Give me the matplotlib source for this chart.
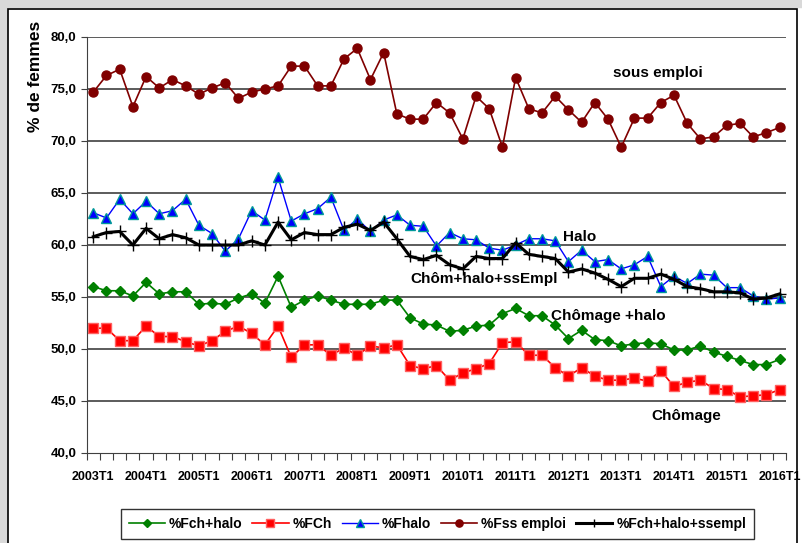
import matplotlib
matplotlib.use("Agg")
import matplotlib.pyplot as plt
from matplotlib.patches import Rectangle

plt.rcParams['font.family'] = ['Liberation Sans', 'DejaVu Sans']

# quarters 2003T1 .. 2016T1
years = list(range(2003, 2017))
quarters = [f"{y}T{q}" for y in years for q in (1, 2, 3, 4)][:53]
tick_labels = [f"{y}T1" for y in years]

# % de femmes
fch_halo = [56.0, 55.6, 55.6, 55.1, 56.4, 55.3, 55.5, 55.5, 54.3, 54.4, 54.3, 54.9,
            55.3, 54.4, 57.0, 54.0, 54.7, 55.1, 54.7, 54.3, 54.3, 54.3, 54.7, 54.7,
            53.0, 52.4, 52.3, 51.7, 51.8, 52.2, 52.3, 53.4, 53.9, 53.2, 53.2, 52.3,
            51.0, 51.8, 50.9, 50.8, 50.3, 50.5, 50.6, 50.5, 49.9, 49.9, 50.3, 49.7,
            49.3, 48.9, 48.5, 48.5, 49.0]
fch = [52.0, 52.0, 50.8, 50.8, 52.2, 51.2, 51.2, 50.7, 50.3, 50.8, 51.7, 52.2,
       51.5, 50.4, 52.2, 49.2, 50.4, 50.4, 49.4, 50.1, 49.4, 50.3, 50.1, 50.4,
       48.4, 48.1, 48.4, 47.0, 47.7, 48.1, 48.6, 50.6, 50.7, 49.4, 49.4, 48.2,
       47.4, 48.2, 47.4, 47.0, 47.0, 47.2, 46.9, 47.9, 46.4, 46.8, 47.0, 46.2,
       46.1, 45.4, 45.5, 45.6, 46.1]
fhalo = [63.1, 62.6, 64.4, 63.0, 64.2, 63.0, 63.3, 64.4, 61.9, 61.1, 59.4, 60.6,
         63.3, 62.4, 66.5, 62.3, 63.0, 63.5, 64.6, 61.4, 62.5, 61.3, 62.4, 62.9,
         61.9, 61.8, 59.9, 61.2, 60.6, 60.5, 59.7, 59.5, 60.0, 60.6, 60.6, 60.4,
         58.4, 59.5, 58.4, 58.6, 57.7, 58.1, 58.9, 56.0, 57.0, 56.3, 57.2, 57.1,
         55.9, 55.9, 55.1, 54.8, 54.9]
fss_emploi = [74.7, 76.3, 76.9, 73.3, 76.2, 75.1, 75.9, 75.3, 74.5, 75.1, 75.6, 74.1,
              74.7, 75.0, 75.3, 77.2, 77.2, 75.3, 75.3, 77.9, 78.9, 75.9, 78.5, 72.6,
              72.1, 72.1, 73.7, 72.7, 70.2, 74.3, 73.1, 69.4, 76.1, 73.1, 72.7, 74.3,
              73.0, 71.8, 73.7, 72.1, 69.4, 72.2, 72.2, 73.7, 74.4, 71.7, 70.2, 70.4,
              71.5, 71.7, 70.4, 70.8, 71.3]
fch_halo_ssempl = [60.8, 61.2, 61.3, 60.0, 61.6, 60.6, 61.0, 60.7, 60.0, 60.0, 60.0, 60.0,
                   60.4, 60.0, 62.2, 60.5, 61.2, 61.0, 61.0, 61.7, 62.0, 61.4, 62.2, 60.6,
                   58.9, 58.6, 59.0, 58.1, 57.7, 58.9, 58.7, 58.7, 60.2, 59.1, 58.9, 58.7,
                   57.4, 57.7, 57.3, 56.7, 56.0, 56.8, 56.8, 57.2, 56.7, 56.0, 55.8, 55.5,
                   55.5, 55.4, 54.8, 54.9, 55.3]

x = list(range(len(quarters)))

fig = plt.figure(figsize=(8.03, 5.43), dpi=100)
W, H = 803, 543

# frame like the spreadsheet chart area
fig.patches.append(Rectangle((0, 0), 7 / W, 1, transform=fig.transFigure,
                             color="#d9d9d9", zorder=0))
fig.patches.append(Rectangle((0, 1 - 7 / H), 1, 7 / H, transform=fig.transFigure,
                             color="#d9d9d9", zorder=0))
fig.patches.append(Rectangle((8 / W, -0.01), 789 / W, 1 - 9 / H + 0.01,
                             transform=fig.transFigure, fill=False,
                             edgecolor="black", lw=1.2, zorder=1))

ax = fig.add_axes([86.7 / W, 1 - 453 / H, 699.5 / W, 416 / H])

ax.plot(x, fch_halo, color="#008000", lw=1.2, marker="D", ms=5.5,
        mfc="#008000", mec="#008000", label="%Fch+halo")
ax.plot(x, fch, color="#ff0000", lw=1.2, marker="s", ms=6.5,
        mfc="#ff0000", mec="#ff6060", label="%FCh")
ax.plot(x, fhalo, color="#0000ff", lw=1.0, marker="^", ms=6.5,
        mfc="#0000ff", mec="#009999", label="%Fhalo")
ax.plot(x, fss_emploi, color="#800000", lw=1.2, marker="o", ms=6.5,
        mfc="#800000", mec="#800000", label="%Fss emploi")
ax.plot(x, fch_halo_ssempl, color="black", lw=2.2, marker="+", ms=8, mew=1.0,
        label="%Fch+halo+ssempl")

ax.set_xlim(-0.5, len(x) - 0.5)
ax.set_ylim(40, 80)
ax.set_yticks(range(40, 81, 5))
ax.set_yticklabels([f"{v},0" for v in range(40, 81, 5)],
                   fontsize=9.5, fontweight="bold")
for v in range(45, 81, 5):
    ax.axhline(v, color="#404040", lw=1.2, zorder=0)

# tick marks between categories, labels on every 4th category
ax.set_xticks([i - 0.5 for i in range(len(x) + 1)])
ax.set_xticklabels([])
ax.set_xticks(list(range(0, len(x), 4)), minor=True)
ax.set_xticklabels(tick_labels, minor=True, fontsize=9, fontweight="bold")
ax.tick_params(axis="x", which="major", direction="out", length=5, color="#404040")
ax.tick_params(axis="x", which="minor", length=0, pad=13)
ax.tick_params(axis="y", direction="out", length=4, color="#404040")

for s in ("top", "right"):
    ax.spines[s].set_visible(False)
ax.spines["left"].set_color("#404040")
ax.spines["bottom"].set_color("#404040")

ax.set_ylabel("% de femmes", fontsize=12.5, fontweight="bold")
ax.yaxis.set_label_coords(-0.0625, 0.905)

# series labels inside the plot
lbl = dict(fontsize=11, fontweight="bold", va="center")
ax.text(42.8, 76.5, "sous emploi", ha="center", **lbl)
ax.text(35.6, 60.8, "Halo", ha="left", **lbl)
ax.text(24.0, 56.7, "Chôm+halo+ssEmpl", ha="left", **lbl)
ax.text(34.7, 53.2, "Chômage +halo", ha="left", **lbl)
ax.text(42.3, 43.6, "Chômage", ha="left", **lbl)

leg = fig.legend(loc="center", bbox_to_anchor=(437.5 / W, 1 - 524 / H), ncol=5,
                 frameon=True, fancybox=False, edgecolor="black",
                 prop={"size": 10, "weight": "bold"}, handlelength=2.6,
                 handletextpad=0.3, columnspacing=0.7, borderpad=0.55,
                 markerscale=0.8)
leg.get_frame().set_linewidth(1.0)

fig.savefig("out.png", dpi=100)
